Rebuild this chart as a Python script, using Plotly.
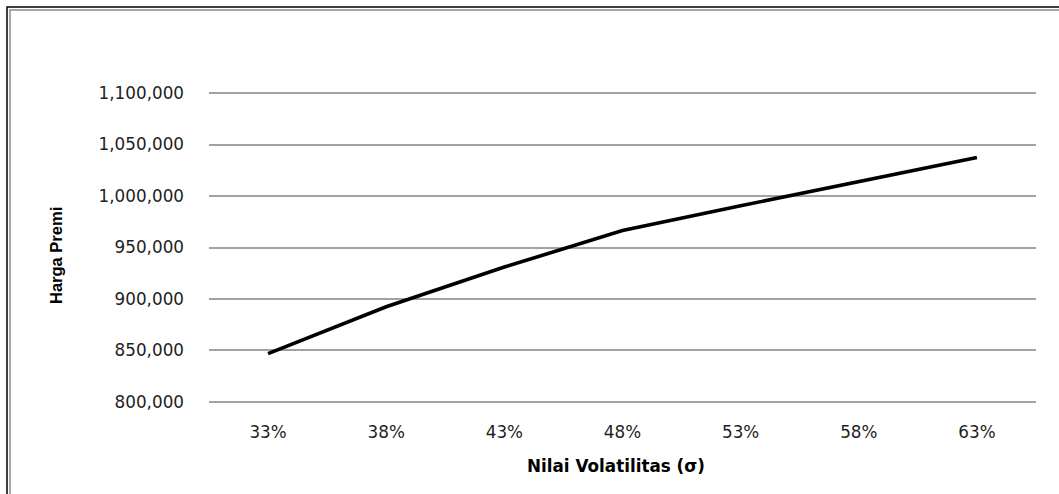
import plotly.graph_objects as go

# Premium price versus volatility level
volatilitas = ["33%", "38%", "43%", "48%", "53%", "58%", "63%"]
harga_premi = [847000, 892500, 931000, 966500, 990500, 1014000, 1037500]
y_ticks = [800000, 850000, 900000, 950000, 1000000, 1050000, 1100000]

W, H = 1059, 494
L, R, T, B = 209, 23, 92, 91
PW, PH = W - L - R, H - T - B


def px_x(px):
    return (px - L) / PW


def px_y(py):
    return 1 - (py - T) / PH


fig = go.Figure(
    go.Scatter(
        x=volatilitas,
        y=harga_premi,
        mode="lines",
        line=dict(color="#000000", width=3.6),
        hoverinfo="x+y",
    )
)

tick_font = dict(family="DejaVu Sans, Verdana, sans-serif", size=16.8, color="#1e1e1e")

fig.update_layout(
    width=W,
    height=H,
    margin=dict(l=L, r=R, t=T, b=B),
    paper_bgcolor="#ffffff",
    plot_bgcolor="#ffffff",
    showlegend=False,
    xaxis=dict(
        type="category",
        showgrid=False,
        zeroline=False,
        showline=False,
        ticks="",
        tickfont=tick_font,
        ticklabelstandoff=17,
        range=[-0.5, 6.5],
    ),
    yaxis=dict(
        range=[799000, 1101000],
        tickvals=y_ticks,
        ticktext=[f"{v:,}" for v in y_ticks],
        showgrid=True,
        gridcolor="#a2a2a2",
        gridwidth=1.6,
        zeroline=False,
        showline=False,
        ticks="",
        tickfont=tick_font,
        ticklabelstandoff=24,
    ),
    annotations=[
        dict(
            text="<b>Nilai Volatilitas (σ)</b>",
            xref="paper", yref="paper",
            x=px_x(616), y=px_y(466),
            xanchor="center", yanchor="middle",
            showarrow=False,
            font=dict(family="DejaVu Sans, Verdana, sans-serif", size=16.8, color="#000000"),
        ),
        dict(
            text="<b>Harga Premi</b>",
            xref="paper", yref="paper",
            x=px_x(56), y=px_y(256),
            xanchor="center", yanchor="middle",
            textangle=-90,
            showarrow=False,
            font=dict(family="Liberation Sans Narrow, Arial Narrow, sans-serif", size=16.5, color="#000000"),
        ),
    ],
    shapes=[
        # outer frame: dark line with a grey inner line
        dict(type="rect", xref="paper", yref="paper",
             x0=px_x(7), y0=px_y(520), x1=px_x(1080), y1=px_y(7),
             line=dict(color="#000000", width=1.5), layer="above"),
        dict(type="rect", xref="paper", yref="paper",
             x0=px_x(10), y0=px_y(520), x1=px_x(1080), y1=px_y(10),
             line=dict(color="#a8a8a8", width=2), layer="above"),
    ],
)

fig.write_html("out.html")
